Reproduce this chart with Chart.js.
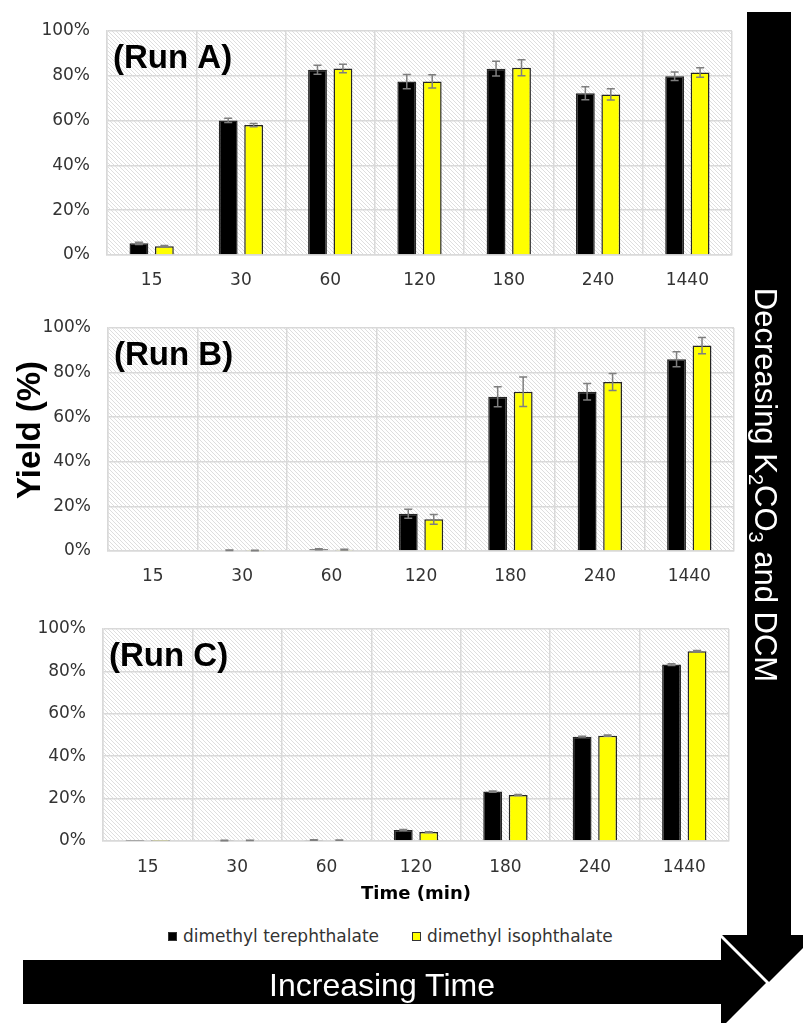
<!DOCTYPE html>
<html>
<head>
<meta charset="utf-8">
<script src="https://cdn.jsdelivr.net/npm/chart.js@4.4.0/dist/chart.umd.min.js"></script>
<style>
  html, body { margin: 0; padding: 0; background: #fff; }
  #page { position: relative; width: 803px; height: 1023px; overflow: hidden; }
  #page canvas { position: absolute; left: 0; }
  #arrows { position: absolute; left: 0; top: 0; }
  .legend-item { position: absolute; display: flex; align-items: center; white-space: nowrap;
    font: 17px "DejaVu Sans", Verdana, sans-serif; color: #333; }
  .swatch { width: 9px; height: 9px; margin-right: 6px; box-sizing: border-box; border: 1px solid #333; }
</style>
</head>
<body>
<div id="page">
  <canvas id="runA" width="740" height="270" style="top:19px"></canvas>
  <canvas id="runB" width="742" height="269" style="top:316px"></canvas>
  <canvas id="runC" width="737" height="286" style="top:617px"></canvas>

  <div class="legend-item" style="left:168px; top:926px"><span class="swatch" style="background:#000"></span>dimethyl terephthalate</div>
  <div class="legend-item" style="left:412px; top:926px"><span class="swatch" style="background:#ffff00"></span>dimethyl isophthalate</div>

  <svg id="arrows" width="803" height="1023" font-family="'Liberation Sans', Arial, sans-serif">
    <!-- down arrow -->
    <polygon points="747,12 791,12 791,935 816,935 769,982 722,935 747,935" fill="#000"/>
    <!-- right arrow, white outline keeps it apart from the down arrow -->
    <polygon points="23,960 721,960 721,938 766,983 721,1028 721,1004 23,1004" fill="none" stroke="#fff" stroke-width="5"/>
    <polygon points="23,960 721,960 721,938 766,983 721,1028 721,1004 23,1004" fill="#000"/>
    <text x="382" y="996" text-anchor="middle" font-size="32" fill="#fff">Increasing Time</text>
    <text transform="translate(755,485) rotate(90)" text-anchor="middle" font-size="31" fill="#fff">Decreasing K<tspan font-size="20" dy="6">2</tspan><tspan font-size="31" dy="-6">CO</tspan><tspan font-size="20" dy="6">3</tspan><tspan font-size="31" dy="-6"> and DCM</tspan></text>
    <text transform="translate(40,430) rotate(-90)" text-anchor="middle" font-size="33" font-weight="bold" fill="#000">Yield (%)</text>
  </svg>
</div>

<script>
// sampling times (min)
const times = ['15', '30', '60', '120', '180', '240', '1440'];
const yTicks = [0, 20, 40, 60, 80, 100];

// Run A yields (%) and standard deviations
const runA_tere = [5.2, 60.1, 82.7, 77.4, 83.2, 72.2, 79.8];
const runA_iso = [3.9, 58.0, 83.3, 77.5, 83.6, 71.7, 81.5];
const runA_tereErr = [0.5, 1.0, 2.0, 3.2, 3.3, 2.9, 1.9];
const runA_isoErr = [0.3, 0.7, 1.9, 3.0, 3.6, 2.5, 2.1];

// Run B
const runB_tere = [0, 0.3, 0.8, 16.7, 69.2, 71.4, 86.0];
const runB_iso = [0, 0.2, 0.6, 14.2, 71.4, 75.8, 92.1];
const runB_tereErr = [0, 0.1, 0.2, 2.0, 4.5, 3.7, 3.4];
const runB_isoErr = [0, 0.1, 0.2, 2.2, 6.6, 3.8, 3.6];

// Run C
const runC_tere = [0.1, 0.2, 0.5, 5.2, 23.3, 49.2, 83.2];
const runC_iso = [0.1, 0.3, 0.4, 4.2, 21.7, 49.7, 89.5];
const runC_tereErr = [0, 0.1, 0.1, 0.2, 0.3, 0.2, 0.4];
const runC_isoErr = [0, 0.1, 0.1, 0.2, 0.2, 0.3, 0.3];

Chart.defaults.font.family = '"DejaVu Sans", Verdana, sans-serif';
Chart.defaults.font.size = 17;
Chart.defaults.color = '#333';

// diagonal hatch tile for the plot background
const hatchTile = (() => {
  const c = document.createElement('canvas');
  c.width = 4; c.height = 4;
  const g = c.getContext('2d');
  g.strokeStyle = '#dedede';
  g.lineWidth = 1;
  for (const k of [-4, 0, 4]) {
    g.beginPath(); g.moveTo(k, 0); g.lineTo(k + 4, 4); g.stroke();
  }
  return c;
})();

const hatchBackground = {
  id: 'hatchBackground',
  beforeDraw(chart) {
    const { ctx, chartArea: a } = chart;
    ctx.save();
    ctx.fillStyle = '#fff';
    ctx.fillRect(a.left, a.top, a.width, a.height);
    ctx.fillStyle = ctx.createPattern(hatchTile, 'repeat');
    ctx.fillRect(a.left, a.top, a.width, a.height);
    ctx.restore();
  }
};

const errorBars = {
  id: 'errorBars',
  afterDatasetsDraw(chart) {
    const { ctx, scales: { y } } = chart;
    ctx.save();
    ctx.strokeStyle = '#7f7f7f';
    ctx.lineWidth = 1.5;
    chart.data.datasets.forEach((ds, i) => {
      chart.getDatasetMeta(i).data.forEach((bar, j) => {
        const e = ds.errors[j];
        if (!e) return;
        const hi = y.getPixelForValue(ds.data[j] + e);
        const lo = y.getPixelForValue(Math.max(ds.data[j] - e, 0));
        ctx.beginPath();
        ctx.moveTo(bar.x, hi); ctx.lineTo(bar.x, lo);
        ctx.moveTo(bar.x - 4, hi); ctx.lineTo(bar.x + 4, hi);
        ctx.moveTo(bar.x - 4, lo); ctx.lineTo(bar.x + 4, lo);
        ctx.stroke();
      });
    });
    ctx.restore();
  }
};

const runLabel = {
  id: 'runLabel',
  afterDraw(chart, args, opts) {
    const { ctx, chartArea } = chart;
    ctx.save();
    ctx.font = 'bold 33px "Liberation Sans", Arial, sans-serif';
    ctx.fillStyle = '#000';
    ctx.fillText(opts.text, chartArea.left + 6, chartArea.top + 37);
    ctx.restore();
  }
};

const xGrid = { color: '#d9d9d9', lineWidth: 1.5, drawTicks: false };
// tick marks are invisible; their length spaces the % labels off the axis
const yGrid = { color: '#d9d9d9', lineWidth: 1.5, drawTicks: true, tickLength: 17, tickColor: 'rgba(0,0,0,0)' };

function makeRun(id, label, tere, iso, tereErr, isoErr, axisWidth, xHeight, xPad, showTitle) {
  return new Chart(document.getElementById(id), {
    type: 'bar',
    data: {
      labels: times,
      datasets: [
        { label: 'dimethyl terephthalate', data: tere, errors: tereErr,
          backgroundColor: '#000', borderColor: '#262626', borderWidth: 1.5 },
        { label: 'dimethyl isophthalate', data: iso, errors: isoErr,
          backgroundColor: '#ffff00', borderColor: '#262626', borderWidth: 1.5 }
      ]
    },
    options: {
      responsive: false,
      animation: false,
      devicePixelRatio: 1,
      categoryPercentage: 0.57,
      barPercentage: 0.74,
      layout: { padding: { top: 12, right: 8, left: 0, bottom: 0 } },
      plugins: {
        legend: { display: false },
        tooltip: { enabled: false },
        runLabel: { text: label }
      },
      scales: {
        x: {
          grid: xGrid,
          border: { display: true, color: '#d9d9d9', width: 1.5 },
          ticks: { padding: xPad },
          title: {
            display: showTitle, text: 'Time (min)', color: '#000',
            font: { size: 18, weight: 'bold' }, padding: { top: 0, bottom: -2 }
          },
          afterFit(scale) { scale.height = xHeight; }
        },
        y: {
          min: 0, max: 100,
          afterBuildTicks(scale) { scale.ticks = yTicks.map(v => ({ value: v })); },
          grid: yGrid,
          border: { display: true, color: '#d9d9d9', width: 1.5 },
          ticks: { padding: 0, callback: v => v + '%' },
          afterFit(scale) { scale.width = axisWidth; }
        }
      }
    },
    plugins: [hatchBackground, errorBars, runLabel]
  });
}

makeRun('runA', '(Run A)', runA_tere, runA_iso, runA_tereErr, runA_isoErr, 107, 34, 15, false);
makeRun('runB', '(Run B)', runB_tere, runB_iso, runB_tereErr, runB_isoErr, 108, 34, 15, false);
makeRun('runC', '(Run C)', runC_tere, runC_iso, runC_tereErr, runC_isoErr, 103, 62, 16, true);
</script>
</body>
</html>
